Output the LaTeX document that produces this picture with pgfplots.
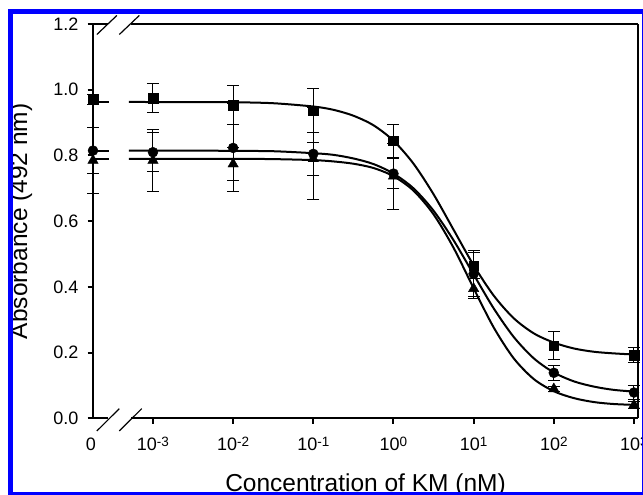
\documentclass[border=0pt]{standalone}
\usepackage{fontspec}
\setmainfont{Liberation Sans}
\usepackage{pgfplots}
\pgfplotsset{compat=1.18}
\definecolor{FrameBlue}{RGB}{0,0,255}
\newcommand\ex[1]{10\raisebox{4.5pt}{\fontsize{13.5}{15}\selectfont #1}}

% x is plotted as log10(concentration); the "0" point sits left of the axis break
\pgfplotsset{
  fitline/.style={black, line width=2pt, smooth, no marks},
  datapts/.style={only marks, black, mark options={fill=black, draw=black},
    error bars/y dir=both, error bars/y explicit,
    error bars/error bar style={line width=1pt, black},
    error bars/error mark options={rotate=90, mark size=6pt, line width=1pt, black}},
}

\begin{document}
\begin{tikzpicture}[x=1pt,y=1pt]
\useasboundingbox (0,0) rectangle (643,495);
\clip (0,0) rectangle (643,495);
\begin{axis}[
  at={(93pt,76.5pt)}, anchor=south west,
  scale only axis, width=545pt, height=394.5pt,
  xmin=-3.748, xmax=3.05, ymin=0, ymax=1.2,
  axis line style={draw=none},
  clip=false,
  tick align=outside, xtick pos=bottom, ytick pos=left,
  tick style={black, line width=2pt},
  major tick length=5.5pt,
  xtick={-3,-2,-1,0,1,2,3},
  xticklabels={\ex{-3},\ex{-2},\ex{-1},\ex{0},\ex{1},\ex{2},\ex{3}},
  extra x ticks={-3.748}, extra x tick labels={0},
  extra x tick style={tick style={draw=none}, xticklabel style={xshift=-2pt}},
  ytick={0,0.2,0.4,0.6,0.8,1.0,1.2},
  yticklabel style={/pgf/number format/fixed, /pgf/number format/fixed zerofill,
    /pgf/number format/precision=1, anchor=east, inner sep=0pt, xshift=-9pt},
  /pgf/number format/assume math mode=true,
  xticklabel style={anchor=base, inner sep=0pt, yshift=-27pt},
  tick label style={font=\fontsize{18}{21}\selectfont},
  label style={font=\fontsize{24.5}{28}\selectfont},
  xlabel={Concentration of KM (nM)},
  ylabel={Absorbance (492 nm)},
  xlabel style={at={(axis description cs:0.5,-0.185)}, anchor=base},
  ylabel style={at={(axis description cs:-0.1211,0.5)}, anchor=base},
]
% axis lines with breaks
\draw[black, line width=2pt] (axis cs:-3.748,0) -- (axis cs:-3.748,1.2);
\draw[black, line width=2pt] (axis cs:3.05,0) -- (axis cs:3.05,1.2);
\draw[black, line width=2pt] (axis cs:-3.748,0) -- (axis cs:-3.56,0);
\draw[black, line width=2pt] (axis cs:-3.27,0) -- (axis cs:3.05,0);
\draw[black, line width=2pt] (axis cs:-3.748,1.2) -- (axis cs:-3.56,1.2);
\draw[black, line width=2pt] (axis cs:-3.27,1.2) -- (axis cs:3.05,1.2);
\draw[black, line width=1.2pt] (axis cs:-3.70,-0.038) -- (axis cs:-3.42,0.030);
\draw[black, line width=1.2pt] (axis cs:-3.42,-0.038) -- (axis cs:-3.14,0.030);
\draw[black, line width=1.2pt] (axis cs:-3.70,1.168) -- (axis cs:-3.45,1.226);
\draw[black, line width=1.2pt] (axis cs:-3.42,1.168) -- (axis cs:-3.17,1.226);

% fitted curves
\addplot[fitline] coordinates {(-3.748,0.963)(-3.55,0.963)};
\addplot[fitline] coordinates {(-3.748,0.815)(-3.55,0.815)};
\addplot[fitline] coordinates {(-3.748,0.790)(-3.55,0.790)};
\addplot[fitline] coordinates {(-3.3,0.963)(-2.5,0.962)(-2,0.962)(-1.5,0.959)(-1,0.949)(-0.75,0.939)(-0.5,0.921)(-0.25,0.892)(0,0.845)(0.25,0.775)(0.5,0.682)(0.75,0.574)(1,0.466)(1.25,0.374)(1.5,0.305)(1.75,0.259)(2,0.231)(2.25,0.213)(2.5,0.203)(2.75,0.198)(3.05,0.194)};
\addplot[fitline] coordinates {(-3.3,0.815)(-2.5,0.815)(-2,0.814)(-1.5,0.813)(-1,0.807)(-0.75,0.802)(-0.5,0.791)(-0.25,0.774)(0,0.745)(0.25,0.700)(0.5,0.632)(0.75,0.542)(1,0.438)(1.25,0.335)(1.5,0.248)(1.75,0.183)(2,0.140)(2.25,0.113)(2.5,0.097)(2.75,0.087)(3.05,0.081)};
\addplot[fitline] coordinates {(-3.3,0.790)(-2.5,0.790)(-2,0.790)(-1.5,0.789)(-1,0.786)(-0.75,0.782)(-0.5,0.775)(-0.25,0.762)(0,0.737)(0.25,0.693)(0.5,0.621)(0.75,0.519)(1,0.396)(1.25,0.277)(1.5,0.183)(1.75,0.120)(2,0.083)(2.25,0.062)(2.5,0.050)(2.75,0.044)(3.05,0.041)};

% measured points
\addplot[datapts, mark=square*, mark size=4.8pt] coordinates {
  (-3.748,0.970) +- (0,0.015)
  (-3,0.975) +- (0,0.045)
  (-2,0.953) +- (0,0.060)
  (-1,0.936) +- (0,0.067)
  (0,0.845) +- (0,0.050)
  (1,0.465) +- (0,0.040)
  (2,0.221) +- (0,0.043)
  (3,0.193) +- (0,0.022)
};
\addplot[datapts, mark=*, mark size=5pt] coordinates {
  (-3.748,0.815) +- (0,0.070)
  (-3,0.810) +- (0,0.060)
  (-2,0.823) +- (0,0.134)
  (-1,0.805) +- (0,0.140)
  (0,0.745) +- (0,0.045)
  (1,0.440) +- (0,0.070)
  (2,0.139) +- (0,0.022)
  (3,0.079) +- (0,0.020)
};
\addplot[datapts, mark=triangle*, mark size=6pt] coordinates {
  (-3.748,0.785) +- (0,0.100)
  (-3,0.785) +- (0,0.093)
  (-2,0.774) +- (0,0.050)
  (-1,0.790) +- (0,0.050)
  (0,0.737) +- (0,0.100)
  (1,0.395) +- (0,0.030)
  (2,0.090) +- (0,0.008)
  (3,0.041) +- (0,0.010)
};
\end{axis}
\draw[FrameBlue, line width=5pt] (10.5,0) rectangle (644.5,483.5);
\end{tikzpicture}
\end{document}
